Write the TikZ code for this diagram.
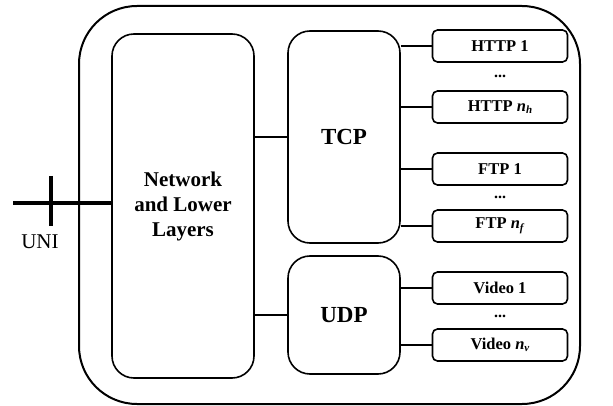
\documentclass[tikz,border=0pt]{standalone}
\usepackage{fontspec}
\setmainfont{Liberation Serif}
\usepackage{tikz}

\begin{document}
\begin{tikzpicture}[x=1pt, y=-1pt,
  layer/.style={draw, line width=1.6pt, rounded corners=22pt, align=center,
    font=\fontsize{21}{25}\selectfont\bfseries, inner sep=0pt},
  app/.style={draw, line width=1.6pt, rounded corners=5pt, minimum width=135,
    minimum height=32, inner sep=0pt, font=\fontsize{16.5}{19}\selectfont\bfseries},
  dots/.style={font=\fontsize{16}{18}\selectfont\bfseries, inner sep=0pt},
  link/.style={line width=1.3pt}]
\useasboundingbox (0,0) rectangle (613,406);

% terminal
\draw [line width=2pt, rounded corners=58pt] (79,6) rectangle (580,404);

% layers
\node [layer, minimum width=142, minimum height=344] (net) at (183,206) {Network\\and Lower\\Layers};
\node [layer, minimum width=112, minimum height=212, font=\fontsize{23}{26}\selectfont\bfseries] (tcp) at (344,137) {TCP};
\node [layer, minimum width=112, minimum height=118, font=\fontsize{23}{26}\selectfont\bfseries] (udp) at (344,315) {UDP};

% applications
\node [app] (http1) at (500,46) {HTTP 1};
\node [dots] (httpdots) at (500,76) {...};
\node [app] (httpn) at (500,107) {HTTP \textit{n}\raisebox{-0.35ex}{\fontsize{11}{12}\selectfont\textit{h}}};
\node [app] (ftp1) at (500,169) {FTP 1};
\node [dots] (ftpdots) at (500,197) {...};
\node [app] (ftpn) at (500,226) {FTP \textit{n}\raisebox{-0.35ex}{\fontsize{11}{12}\selectfont\textit{f}}};
\node [app] (video1) at (500,288) {Video 1};
\node [dots] (videodots) at (500,316) {...};
\node [app] (videon) at (500,345) {Video \textit{n}\raisebox{-0.35ex}{\fontsize{11}{12}\selectfont\textit{v}}};

% links
\draw [link] (net.east |- tcp.west) -- (tcp.west);
\draw [link] (net.east |- udp.west) -- (udp.west);
\foreach \a in {http1, httpn, ftp1, ftpn}
  \draw [link] (tcp.east |- \a.west) -- (\a.west);
\foreach \a in {video1, videon}
  \draw [link] (udp.east |- \a.west) -- (\a.west);

% user network interface
\coordinate (uniend) at (13,203);
\coordinate (unitop) at (51,176);
\coordinate (unibot) at (51,226);
\draw [line width=4.5pt] (uniend) -- (net.west |- uniend);
\draw [line width=3.5pt] (unitop) -- (unibot);
\node [font=\fontsize{21}{24}\selectfont] (uni) at (40,242) {UNI};
\end{tikzpicture}
\end{document}
